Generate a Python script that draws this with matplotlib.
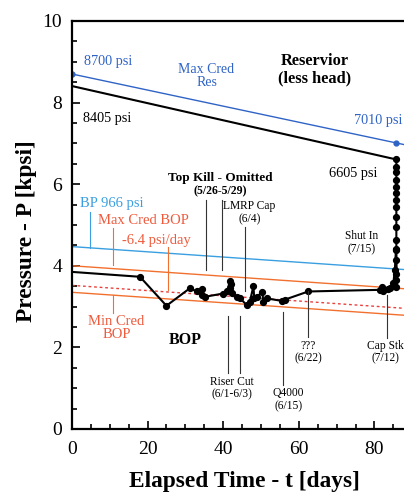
import numpy as np
import matplotlib
matplotlib.use("Agg")
import matplotlib.pyplot as plt
from matplotlib.ticker import MultipleLocator

plt.rcParams['font.family'] = ['Liberation Serif', 'DejaVu Serif']

# BOP pressure record (days since 4/20, kpsi)
bop_days = [0, 18, 25, 31.2, 33, 34.3, 34.3, 35.2, 40, 41, 41.8, 41.9, 42.1, 42.4,
            43.6, 44.5, 46.2, 47, 48, 48.2, 48.9, 50.4, 50.6, 51.5, 55.5, 56.3,
            62.5, 81.5, 82, 82.3, 83.5, 84.1, 85, 85.4, 85.7]
bop_psi = [3.85, 3.73, 3.02, 3.45, 3.37, 3.42, 3.28, 3.24, 3.32, 3.37, 3.62, 3.45, 3.55, 3.33,
           3.24, 3.2, 3.04, 3.1, 3.5, 3.22, 3.24, 3.36, 3.1, 3.2, 3.14, 3.17,
           3.37, 3.41, 3.48, 3.38, 3.44, 3.45, 3.57, 3.9, 4.4]

# shut-in build-up at 7/15
shut_days = [85.8] * 16
shut_psi = [3.49, 3.65, 3.81, 4.14, 4.39, 4.63, 4.96, 5.2, 5.45, 5.61,
            5.78, 5.94, 6.1, 6.31, 6.43, 6.605]

# reservoir (less head) and max credible reservoir
res_days = [0, 85.8]
res_psi = [8.405, 6.605]
res_max_days = [0, 85.8, 100]
res_max_psi = [8.70, 7.01, 6.73]

# BOP reference lines, all at -6.4 psi/day
slope = -0.0064
line_days = np.array([0, 100])
bp966_start = 4.47
max_bop_start = 4.0
mid_bop_start = 3.52
min_bop_start = 3.35

# events: label, days, line span (kpsi)
events = [
    ("Top Kill", [35.4, 39.8], 3.9, 5.6),
    ("LMRP Cap", [45.8], 3.37, 4.96),
    ("Riser Cut", [41.4, 44.4], 1.37, 2.77),
    ("Q4000", [55.7], 1.08, 2.87),
    ("???", [62.5], 2.26, 3.37),
    ("Cap Stk", [83.2], 2.23, 3.28),
]

blue = "#2f63c6"
light_blue = "#3a9fe0"
orange = "#f2702e"
red = "#e8413a"
label_red = "#ef5a3c"

fig = plt.figure(figsize=(4.04, 4.94), dpi=100)
ax = fig.add_axes([0.178, 0.1316, 0.936, 0.826])

ax.plot(line_days, bp966_start + slope * line_days, color=light_blue, lw=1.0)
ax.plot(line_days, max_bop_start + slope * line_days, color=orange, lw=1.0)
ax.plot(line_days, mid_bop_start + slope * line_days, color=red, lw=1.0, ls=(0, (2, 2)))
ax.plot(line_days, min_bop_start + slope * line_days, color=orange, lw=1.0)

ax.plot(res_max_days, res_max_psi, color=blue, lw=1.0, marker='o', ms=3.5, markevery=[0, 1])
ax.plot(res_days, res_psi, color='black', lw=1.5)

ax.plot(bop_days + shut_days, bop_psi + shut_psi, color='black', lw=1.5,
        marker='o', ms=4.2, markevery=list(range(1, len(bop_days) + len(shut_days))))

for name, days, y0, y1 in events:
    for d in days:
        ax.plot([d, d], [y0, y1], color='#333333', lw=0.8)

# callout ticks for reference lines
ax.plot([4.8, 4.8], [4.44, 5.33], color=light_blue, lw=0.8)
ax.plot([10.8, 10.8], [4.02, 4.93], color=orange, lw=0.8)
ax.plot([25.3, 25.3], [3.4, 4.47], color=orange, lw=0.8)
ax.plot([10.8, 10.8], [2.84, 3.28], color=orange, lw=0.8)

ax.text(9.6, 9.0, "8700 psi", color=blue, fontsize=10.3, ha='center', va='center')
ax.text(35.6, 8.65, "Max Cred\nRes", color=blue, fontsize=10, ha='center', va='center',
        linespacing=1.0)
ax.text(64.3, 8.8, "Reservior\n(less head)", color='black', fontsize=11.8, fontweight='bold',
        ha='center', va='center', linespacing=1.1)
ax.text(9.2, 7.6, "8405 psi", color='black', fontsize=10.3, ha='center', va='center')
ax.text(74.5, 7.57, "7010 psi", color=blue, fontsize=10.3, ha='left', va='center')
ax.text(74.4, 6.27, "6605 psi", color='black', fontsize=10.3, ha='center', va='center')
ax.text(39.2, 6.14, "Top Kill - Omitted", color='black', fontsize=9.5,
        fontweight='bold', ha='center', va='center')
ax.text(39.2, 5.82, "(5/26-5/29)", color='black', fontsize=8.5,
        fontweight='bold', ha='center', va='center')
ax.text(10.5, 5.53, "BP 966 psi", color=light_blue, fontsize=10.5, ha='center', va='center')
ax.text(18.9, 5.12, "Max Cred BOP", color=label_red, fontsize=10.5, ha='center', va='center')
ax.text(22.4, 4.63, "-6.4 psi/day", color=label_red, fontsize=10.5, ha='center', va='center')
ax.text(47.0, 5.3, "LMRP Cap\n(6/4)", color='black', fontsize=8.3, ha='center', va='center',
        linespacing=1.1)
ax.text(76.7, 4.57, "Shut In\n(7/15)", color='black', fontsize=8.3, ha='center', va='center',
        linespacing=1.1)
ax.text(11.8, 2.47, "Min Cred\nBOP", color=label_red, fontsize=10.5, ha='center', va='center',
        linespacing=1.0)
ax.text(29.9, 2.18, "BOP", color='black', fontsize=11.5, fontweight='bold',
        ha='center', va='center')
ax.text(42.2, 1.0, "Riser Cut\n(6/1-6/3)", color='black', fontsize=8.3, ha='center',
        va='center', linespacing=1.1)
ax.text(57.2, 0.72, "Q4000\n(6/15)", color='black', fontsize=8.3, ha='center', va='center',
        linespacing=1.1)
ax.text(62.5, 1.88, "???\n(6/22)", color='black', fontsize=8.3, ha='center', va='center',
        linespacing=1.1)
ax.text(82.8, 1.88, "Cap Stk\n(7/12)", color='black', fontsize=8.3,
        ha='center', va='center', linespacing=1.1)

ax.set_xlim(0, 100)
ax.set_ylim(0, 10)
ax.set_xticks([0, 20, 40, 60, 80])
ax.xaxis.set_minor_locator(MultipleLocator(5))
ax.yaxis.set_major_locator(MultipleLocator(2))
ax.yaxis.set_minor_locator(MultipleLocator(0.5))
ax.tick_params(which='both', direction='in', top=False, right=False, width=1.2,
               labelsize=14)
ax.tick_params(which='major', length=6)
ax.tick_params(which='minor', length=3.5)
ax.tick_params(axis='y', pad=7)
ax.tick_params(axis='x', pad=9)
for s in ax.spines.values():
    s.set_linewidth(1.6)

ax.set_xlabel("Elapsed Time - t [days]", fontsize=16.8, fontweight='bold')
ax.set_ylabel("Pressure - P [kpsi]", fontsize=16.8, fontweight='bold')
ax.xaxis.set_label_coords(0.455, -0.129)
ax.xaxis.label.set_verticalalignment('center')
ax.yaxis.set_label_coords(-0.12, 0.485)
ax.yaxis.label.set_verticalalignment('center')

fig.savefig("out.png", dpi=100)
